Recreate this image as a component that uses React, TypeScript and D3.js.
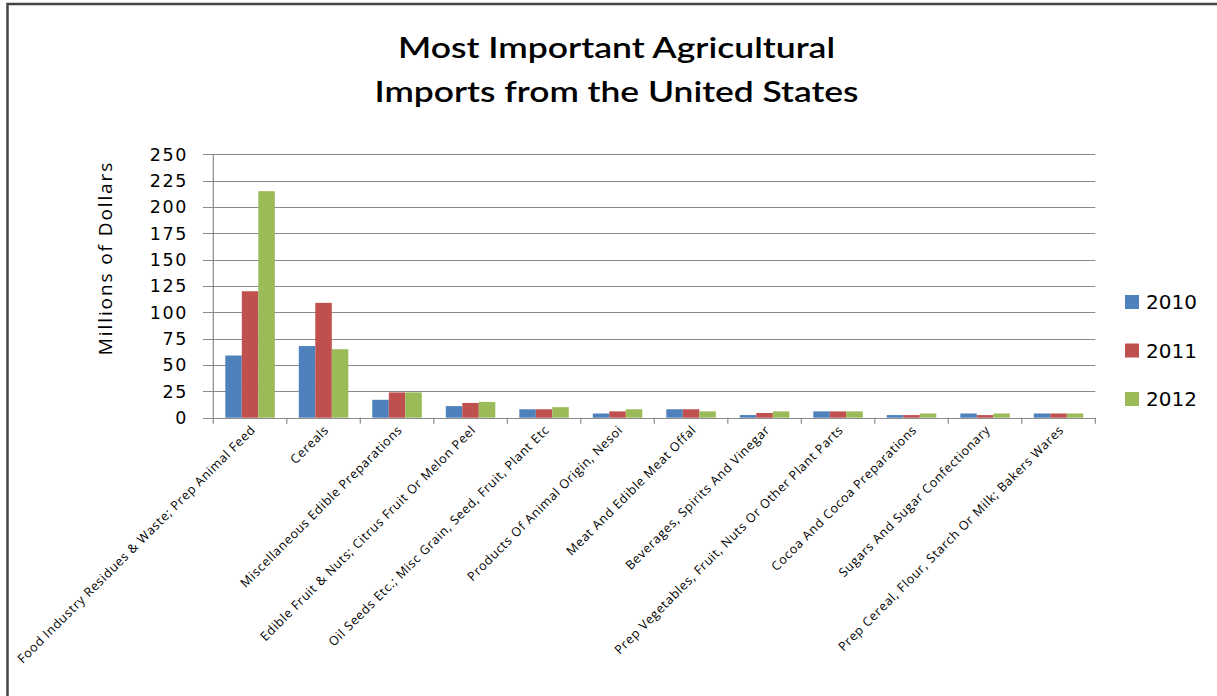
import React from "react";
import * as d3 from "d3";

const categories = [
  "Food Industry Residues & Waste; Prep Animal Feed",
  "Cereals",
  "Miscellaneous Edible Preparations",
  "Edible Fruit & Nuts; Citrus Fruit Or Melon Peel",
  "Oil Seeds Etc.; Misc Grain, Seed, Fruit, Plant Etc",
  "Products Of Animal Origin, Nesoi",
  "Meat And Edible Meat Offal",
  "Beverages, Spirits And Vinegar",
  "Prep Vegetables, Fruit, Nuts Or Other Plant Parts",
  "Cocoa And Cocoa Preparations",
  "Sugars And Sugar Confectionary",
  "Prep Cereal, Flour, Starch Or Milk; Bakers Wares",
];

const years = ["2010", "2011", "2012"];
const values2010 = [59, 68, 17, 11, 8, 4, 8, 2.5, 6, 2.5, 4, 4];
const values2011 = [120, 109, 24, 14, 8, 6, 8, 4.5, 6, 2.5, 2.5, 4];
const values2012 = [215, 65, 24, 15, 10, 8, 6, 6, 6, 4, 4, 4];
const seriesValues = [values2010, values2011, values2012];
const colors = ["#4F81BD", "#C0504D", "#9BBB59"];
const yTicks = [0, 25, 50, 75, 100, 125, 150, 175, 200, 225, 250];

const titleLines = ["Most Important Agricultural", "Imports from the United States"];
const titleWidths = [437, 484];
const yAxisTitle = "Millions of Dollars";

const FONT = "'Open Sans', Lato, sans-serif";

export default function App() {
  const W = 1217;
  const H = 696;
  const left = 213.3;
  const right = 1095.3;
  const top = 154.3;
  const bottom = 417.7;

  const x = d3.scaleBand<string>().domain(categories).range([left, right]).paddingInner(0).paddingOuter(0);
  const xs = d3
    .scaleBand<string>()
    .domain(years)
    .range([0, x.bandwidth()])
    .paddingInner(0)
    .paddingOuter(0.727);
  const y = d3.scaleLinear().domain([0, 250]).range([bottom, top]);

  const boundaries = categories.map((c) => x(c) as number).concat([right]);

  return (
    <svg
      width={W}
      height={H}
      style={{ position: "absolute", left: 0, top: 0, background: "#fff" }}
      fontFamily={FONT}
    >
      <rect x={0} y={0} width={W} height={H} fill="#fff" />
      {/* outer border */}
      <rect x={7.5} y={4} width={W + 20} height={H + 20} fill="none" stroke="#454545" strokeWidth={2.5} />

      {/* title */}
      {titleLines.map((t, i) => (
        <text
          key={i}
          x={616.5}
          y={58 + i * 44}
          textAnchor="middle"
          fontSize={29}
          fontWeight={600}
          fontFamily="Lato, sans-serif"
          textLength={titleWidths[i]}
          lengthAdjust="spacingAndGlyphs"
          fill="#000"
        >
          {t}
        </text>
      ))}

      {/* gridlines */}
      {yTicks.map((t) => (
        <line
          key={"g" + t}
          x1={203}
          x2={right}
          y1={Math.round(y(t)) + 0.5}
          y2={Math.round(y(t)) + 0.5}
          stroke="#8a8a8a"
          strokeWidth={1.2}
        />
      ))}

      {/* y tick labels */}
      {yTicks.map((t) => (
        <text
          key={"yl" + t}
          x={188}
          y={y(t)}
          dy="0.36em"
          textAnchor="end"
          fontSize={17.5}
          fontFamily="'DejaVu Sans', sans-serif"
          letterSpacing={1.6}
          fill="#000"
        >
          {t}
        </text>
      ))}

      {/* y axis title */}
      <text
        transform={`translate(112, 258) rotate(-90)`}
        textAnchor="middle"
        fontSize={19}
        letterSpacing={1.9}
        fill="#000"
      >
        {yAxisTitle}
      </text>

      {/* bars */}
      {seriesValues.map((vals, si) =>
        categories.map((c, ci) => (
          <rect
            key={`b${si}-${ci}`}
            x={(x(c) as number) + (xs(years[si]) as number)}
            y={y(vals[ci])}
            width={xs.bandwidth()}
            height={y(0) - y(vals[ci])}
            fill={colors[si]}
          />
        ))
      )}

      {/* axes */}
      <line x1={left} x2={left} y1={top} y2={bottom} stroke="#8a8a8a" strokeWidth={1.2} />
      <line x1={203} x2={right} y1={Math.round(bottom) + 0.5} y2={Math.round(bottom) + 0.5} stroke="#8a8a8a" strokeWidth={1.2} />
      {boundaries.map((b, i) => (
        <line key={"xt" + i} x1={b} x2={b} y1={bottom} y2={bottom + 6} stroke="#8a8a8a" strokeWidth={1.2} />
      ))}

      {/* category labels */}
      {categories.map((c) => {
        const cx = (x(c) as number) + x.bandwidth() / 2;
        return (
          <text
            key={"cl" + c}
            transform={`translate(${cx + 6}, ${bottom + 13}) rotate(-45)`}
            textAnchor="end"
            fontSize={12.5}
            letterSpacing={0.7}
            fill="#000"
          >
            {c}
          </text>
        );
      })}

      {/* legend */}
      {years.map((yr, i) => (
        <g key={"lg" + yr} transform={`translate(1125, ${302 + i * 48.5})`}>
          <rect x={0} y={-7} width={14} height={14} fill={colors[i]} />
          <text
            x={21}
            y={0}
            dy="0.36em"
            fontSize={20}
            fontFamily="'DejaVu Sans', sans-serif"
            fill="#000"
          >
            {yr}
          </text>
        </g>
      ))}
    </svg>
  );
}
